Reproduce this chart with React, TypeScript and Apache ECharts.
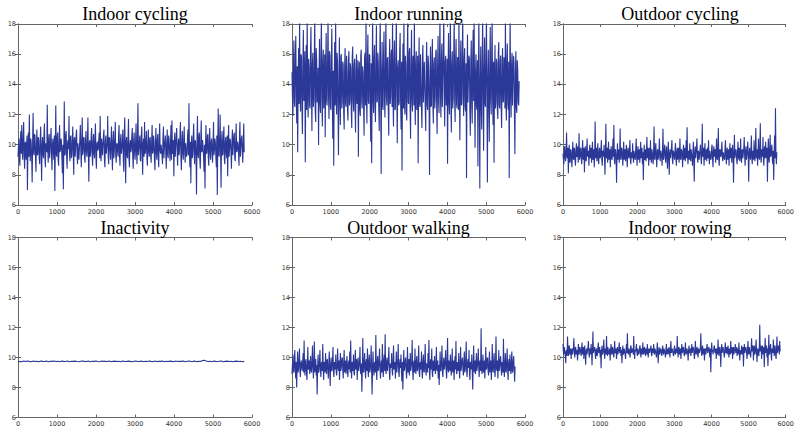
import React, { useEffect, useRef } from "react";
import * as echarts from "echarts";

const titles = [
  "Indoor cycling",
  "Indoor running",
  "Outdoor cycling",
  "Inactivity",
  "Outdoor walking",
  "Indoor rowing",
];

// x position (sample index) of the last point of each recording
const lastSample = [5800, 5850, 5760, 5800, 5745, 5850];

const xMin = 0;
const xMax = 6000;
const xStep = 1000;
const yMin = 6;
const yMax = 18;
const yStep = 2;

const indoorCycling = [
  9.2, 9.9, 10.4, 9.1, 8.6, 10.3, 10.9, 9.4, 11.3, 9.7, 9.0, 10.5, 11.5, 9.3, 8.4, 10.1, 10.2, 9.0, 9.5, 10.6, 7.0, 9.8, 10.8, 9.2, 12.0, 9.6, 8.9, 10.4, 10.1, 9.1, 7.5, 10.2, 12.1, 9.5, 9.3, 10.7, 10.6, 9.2, 8.2, 10.0,
  11.0, 9.3, 9.4, 10.5, 10.3, 9.0, 8.7, 10.2, 11.2, 9.6, 7.6, 9.9, 10.5, 9.4, 9.1, 10.6, 11.4, 9.2, 8.5, 10.1, 10.0, 9.5, 12.65, 9.7, 8.8, 10.3, 10.7, 9.1, 9.6, 10.4, 11.1, 9.3, 8.3, 10.0, 10.4, 9.5, 9.0, 10.6, 6.93, 9.8,
  12.6, 9.4, 9.2, 10.5, 10.8, 9.0, 8.6, 10.2, 11.3, 9.5, 9.7, 10.4, 10.2, 9.1, 8.1, 10.0, 7.04, 9.6, 12.86, 9.3, 9.4, 10.6, 10.9, 9.2, 8.4, 10.1, 10.3, 9.7, 11.9, 9.4, 8.9, 10.5, 10.6, 9.1, 9.3, 10.2, 11.2, 9.5, 8.0, 10.3,
  10.5, 9.2, 9.8, 10.6, 11.0, 9.4, 8.7, 10.1, 10.1, 9.0, 9.0, 10.4, 11.3, 9.6, 8.5, 10.2, 11.8, 9.3, 9.6, 10.5, 10.4, 9.1, 8.8, 10.3, 10.9, 9.5, 9.2, 10.0, 11.8, 9.4, 7.55, 10.1, 10.3, 9.2, 9.5, 10.6, 11.1, 9.3, 8.6, 10.2,
  10.7, 9.4, 9.1, 10.5, 11.4, 9.2, 8.4, 10.0, 10.2, 9.6, 9.7, 10.3, 10.8, 9.1, 11.9, 9.5, 8.9, 10.4, 10.0, 9.3, 9.3, 10.6, 11.0, 9.0, 8.5, 10.2, 10.6, 9.4, 9.8, 10.1, 11.9, 9.2, 8.7, 10.5, 10.4, 9.6, 9.0, 10.3, 11.2, 9.4,
  8.3, 10.2, 10.9, 9.1, 9.6, 10.4, 11.5, 9.3, 8.8, 10.0, 10.1, 9.5, 9.2, 10.6, 11.3, 9.2, 8.6, 10.3, 10.7, 9.4, 9.4, 10.1, 11.0, 9.0, 8.2, 10.5, 11.8, 9.6, 7.44, 10.2, 10.5, 9.3, 9.1, 10.4, 11.7, 9.1, 8.5, 10.0, 10.3, 9.5,
  9.7, 10.6, 11.1, 9.2, 8.4, 10.3, 10.8, 9.4, 9.0, 10.1, 11.4, 9.5, 8.7, 10.4, 12.75, 9.3, 9.3, 10.2, 10.6, 9.0, 8.9, 10.5, 11.2, 9.6, 8.0, 10.1, 10.4, 9.2, 11.5, 9.4, 9.5, 10.3, 10.9, 9.1, 8.6, 10.0, 11.0, 9.5, 9.2, 10.4,
  10.5, 9.3, 8.8, 10.2, 11.3, 9.4, 9.6, 10.6, 10.2, 9.0, 8.3, 10.1, 11.1, 9.5, 9.0, 10.3, 10.7, 9.2, 8.5, 10.4, 11.4, 9.6, 9.4, 10.0, 10.0, 9.3, 8.7, 10.5, 11.2, 9.1, 9.8, 10.2, 10.6, 9.4, 8.4, 10.1, 11.0, 9.3, 9.1, 10.6,
  10.3, 9.5, 8.9, 10.2, 11.3, 9.0, 11.6, 9.4, 9.5, 10.3, 7.9, 10.1, 10.8, 9.2, 9.2, 10.5, 11.1, 9.6, 8.6, 10.0, 10.4, 9.3, 9.7, 10.6, 11.5, 9.1, 8.3, 10.2, 10.9, 9.4, 9.0, 10.4, 11.2, 9.5, 8.8, 10.1, 10.1, 9.2, 9.4, 10.5,
  11.0, 9.3, 12.75, 9.6, 8.5, 10.2, 7.44, 10.0, 10.6, 9.1, 9.3, 10.4, 11.4, 9.5, 8.7, 10.3, 10.2, 9.2, 6.7, 10.1, 11.9, 9.4, 9.1, 10.6, 10.8, 9.0, 8.4, 10.2, 11.6, 9.5, 9.6, 10.3, 10.3, 9.2, 8.2, 10.0, 7.1, 9.7, 11.3, 9.4,
  9.5, 10.5, 10.7, 9.1, 8.6, 10.3, 11.1, 9.4, 9.0, 10.2, 10.4, 9.6, 8.8, 10.0, 11.5, 9.3, 9.7, 10.4, 10.1, 9.2, 8.5, 10.6, 6.67, 9.9, 12.4, 9.4, 9.2, 10.3, 12.0, 9.6, 7.15, 10.1, 10.9, 9.3, 9.4, 10.5, 11.2, 9.0, 8.7, 10.2,
  10.5, 9.4, 9.1, 10.6, 7.9, 10.0, 11.3, 9.2, 9.8, 10.4, 10.2, 9.5, 8.4, 10.1, 11.0, 9.3, 9.3, 10.6, 10.8, 9.1, 8.9, 10.3, 11.4, 9.5, 9.6, 10.2, 10.0, 9.4, 8.6, 10.5, 11.5, 9.2, 9.2, 10.4, 10.6, 9.6, 8.8, 10.1, 11.4, 9.5,
];

const indoorRunning = [
  14.8, 13.2, 11.9, 15.4, 16.9, 12.8, 12.5, 15.9, 17.2, 13.1, 11.4, 15.2, 9.5, 14.6, 16.4, 12.7, 18.5, 13.5, 12.2, 16.0, 15.8, 12.4, 10.7, 15.5, 17.6, 12.9, 13.0, 16.2, 8.83, 14.1, 16.6, 12.3, 18.5, 13.8, 11.8, 15.7, 15.2, 12.6, 12.4, 16.1,
  17.8, 13.4, 10.9, 15.3, 16.1, 12.5, 12.9, 15.8, 18.5, 12.2, 11.5, 16.4, 15.6, 12.8, 13.3, 15.1, 9.98, 14.4, 17.0, 12.7, 12.1, 15.9, 18.5, 13.0, 11.2, 15.6, 16.3, 12.4, 13.6, 16.0, 10.5, 14.8, 17.4, 12.9, 12.6, 15.4, 18.5, 13.3, 11.7, 16.2,
  15.9, 12.5, 12.3, 15.7, 17.7, 13.1, 10.4, 14.9, 8.6, 13.8, 16.8, 12.6, 18.5, 13.4, 12.0, 16.1, 15.4, 12.2, 9.3, 14.7, 17.1, 12.8, 11.3, 15.8, 16.0, 12.4, 12.8, 15.5, 15.3, 12.1, 11.0, 15.2, 16.4, 12.7, 12.5, 15.9, 14.9, 12.3, 11.6, 15.6,
  16.2, 12.6, 12.9, 15.4, 15.1, 12.2, 11.1, 15.8, 16.5, 12.9, 12.2, 15.3, 15.7, 12.4, 10.8, 15.0, 16.0, 12.7, 13.1, 15.6, 9.2, 14.5, 15.5, 12.3, 11.9, 15.9, 16.3, 12.8, 12.4, 15.2, 14.8, 12.5, 10.6, 15.7, 16.1, 12.6, 18.5, 13.2, 11.4, 15.5,
  17.3, 12.9, 12.7, 16.0, 15.9, 12.4, 10.2, 15.4, 8.77, 14.2, 18.5, 13.0, 12.1, 15.8, 16.6, 12.5, 11.5, 15.6, 17.9, 12.8, 12.9, 16.1, 15.4, 12.3, 10.9, 15.7, 18.5, 13.4, 8.06, 14.6, 16.8, 12.6, 12.3, 15.9, 17.5, 12.9, 11.8, 15.3, 18.5, 13.2,
  12.6, 15.7, 15.8, 12.4, 10.6, 15.2, 17.0, 12.7, 13.2, 16.0, 16.3, 12.5, 18.5, 13.1, 11.2, 15.6, 16.9, 12.3, 12.4, 15.8, 18.5, 13.3, 10.1, 15.1, 15.6, 12.6, 12.8, 16.2, 17.4, 12.9, 11.0, 15.5, 8.28, 14.3, 16.7, 12.4, 18.5, 13.0, 12.0, 15.9,
  15.3, 12.2, 11.6, 15.7, 18.5, 12.8, 12.7, 16.1, 16.4, 12.5, 10.4, 15.3, 17.6, 12.9, 12.2, 15.8, 15.9, 12.6, 18.5, 13.2, 11.3, 15.4, 16.2, 12.3, 12.9, 15.9, 8.77, 14.5, 17.1, 12.7, 12.5, 16.0, 16.0, 12.4, 11.1, 15.6, 16.6, 12.8, 12.8, 15.5,
  15.5, 12.3, 10.9, 15.2, 16.8, 12.6, 12.3, 15.9, 15.2, 12.9, 7.99, 14.2, 16.5, 12.5, 12.6, 15.7, 17.0, 12.8, 11.4, 15.4, 15.8, 12.4, 13.0, 16.1, 16.3, 12.7, 10.7, 15.3, 17.2, 12.9, 12.1, 15.8, 18.5, 13.3, 11.8, 15.6, 16.7, 12.5, 12.5, 16.0,
  18.5, 13.1, 11.2, 15.5, 15.9, 12.6, 12.9, 15.7, 8.73, 14.4, 17.4, 12.8, 12.0, 16.2, 18.5, 12.9, 10.8, 15.3, 16.2, 12.4, 13.1, 15.9, 18.5, 13.0, 11.5, 15.6, 17.0, 12.7, 12.4, 15.8, 15.6, 12.3, 18.5, 13.4, 10.3, 15.2, 16.9, 12.6, 12.7, 16.0,
  18.5, 13.2, 11.9, 15.7, 16.4, 12.5, 12.2, 15.4, 7.79, 14.3, 17.3, 12.8, 12.8, 15.9, 15.7, 12.4, 10.6, 15.5, 16.9, 12.7, 11.4, 15.8, 17.6, 12.9, 18.5, 13.3, 9.8, 14.8, 16.0, 12.6, 12.3, 15.6, 8.57, 14.2, 18.5, 13.0, 7.1, 14.1, 16.5, 12.5,
  11.0, 15.4, 18.5, 13.1, 9.6, 14.9, 17.1, 12.7, 12.5, 15.9, 18.5, 13.2, 7.5, 14.4, 16.3, 12.6, 10.2, 15.3, 17.8, 12.9, 12.0, 15.8, 18.5, 13.0, 11.3, 15.5, 8.8, 14.6, 16.6, 12.4, 12.8, 15.7, 15.4, 12.3, 11.7, 16.1, 16.8, 12.6, 12.4, 15.6,
  15.9, 12.5, 11.1, 15.4, 16.4, 12.8, 12.9, 15.8, 15.2, 12.4, 18.5, 13.1, 11.6, 15.6, 16.7, 12.7, 12.3, 15.5, 7.79, 14.5, 18.5, 13.2, 11.8, 15.3, 16.1, 12.6, 12.6, 15.9, 15.5, 12.2, 9.36, 14.7, 16.2, 12.5, 12.1, 15.6, 14.9, 12.8, 12.6, 14.2,
];

const outdoorCycling = [
  9.4, 9.0, 8.7, 9.7, 9.9, 9.1, 8.9, 9.6, 10.8, 9.2, 9.1, 9.8, 8.1, 9.4, 10.0, 8.9, 8.8, 9.7, 9.6, 9.0, 8.5, 9.5, 10.2, 9.1, 9.0, 9.8, 9.7, 8.9, 8.6, 9.6, 10.1, 9.2, 9.3, 9.9, 8.8, 9.5, 10.76, 9.0, 9.2, 9.7,
  9.8, 9.0, 8.7, 9.6, 10.3, 9.1, 9.0, 9.8, 8.17, 9.4, 9.9, 9.0, 8.9, 9.7, 10.4, 9.2, 9.2, 9.6, 8.6, 9.5, 10.0, 9.1, 9.4, 9.8, 8.8, 9.5, 10.2, 9.0, 9.1, 9.7, 8.5, 9.4, 11.53, 9.1, 9.3, 9.8, 8.9, 9.6, 10.1, 9.0,
  8.7, 9.5, 9.8, 9.1, 9.2, 9.7, 10.3, 9.0, 8.6, 9.6, 9.5, 9.2, 10.0, 9.1, 8.0, 9.4, 11.38, 9.2, 9.1, 9.8, 8.8, 9.5, 10.2, 9.0, 9.3, 9.7, 8.5, 9.4, 9.9, 9.1, 9.0, 9.6, 10.4, 9.2, 11.3, 9.0, 8.7, 9.7, 9.6, 9.1,
  7.48, 9.3, 10.1, 9.0, 9.2, 9.7, 8.8, 9.5, 11.07, 9.1, 9.0, 9.8, 9.7, 9.2, 8.6, 9.6, 10.2, 9.0, 9.3, 9.7, 8.9, 9.4, 10.0, 9.1, 8.5, 9.6, 9.8, 9.2, 9.1, 9.7, 10.3, 9.0, 8.7, 9.5, 9.5, 9.1, 10.1, 9.3, 8.8, 9.6,
  9.6, 9.1, 9.0, 9.8, 10.4, 9.2, 8.6, 9.5, 9.9, 9.0, 9.2, 9.7, 8.8, 9.4, 10.2, 9.1, 9.4, 9.8, 8.7, 9.5, 7.66, 9.3, 10.0, 9.0, 9.1, 9.7, 8.9, 9.6, 10.5, 9.1, 9.3, 9.8, 8.6, 9.4, 9.8, 9.0, 10.3, 9.2, 8.8, 9.7,
  9.5, 9.0, 8.7, 9.6, 11.2, 9.1, 9.0, 9.8, 10.1, 9.2, 8.5, 9.5, 9.7, 9.0, 9.2, 9.7, 10.4, 9.1, 8.9, 9.6, 9.6, 9.2, 8.6, 9.8, 11.05, 9.0, 9.1, 9.7, 10.0, 9.3, 8.8, 9.5, 9.9, 9.1, 8.4, 9.6, 10.2, 9.0, 8.0, 9.4,
  9.7, 9.1, 9.1, 9.8, 10.3, 9.0, 8.7, 9.6, 9.5, 9.2, 9.0, 9.7, 10.1, 9.1, 8.6, 9.5, 9.8, 9.0, 9.3, 9.8, 8.8, 9.4, 10.4, 9.1, 9.0, 9.7, 9.6, 9.2, 8.5, 9.6, 10.0, 9.0, 9.2, 9.8, 8.9, 9.5, 10.3, 9.1, 11.16, 9.3,
  8.7, 9.6, 9.4, 9.0, 10.1, 9.2, 8.9, 9.7, 9.7, 9.1, 8.6, 9.5, 10.2, 9.0, 7.55, 9.4, 9.9, 9.1, 9.1, 9.8, 10.4, 9.2, 8.8, 9.6, 9.5, 9.0, 9.0, 9.7, 10.0, 9.1, 8.7, 9.5, 11.38, 9.2, 9.2, 9.8, 8.6, 9.4, 10.1, 9.0,
  9.3, 9.7, 8.9, 9.5, 9.8, 9.1, 10.3, 9.2, 8.7, 9.6, 9.6, 9.0, 9.1, 9.8, 10.0, 9.1, 8.5, 9.5, 9.9, 9.2, 9.2, 9.7, 8.8, 9.4, 10.4, 9.1, 9.0, 9.8, 11.1, 9.0, 8.6, 9.6, 9.7, 9.2, 9.3, 9.7, 10.2, 9.1, 8.9, 9.5,
  9.5, 9.1, 9.0, 9.8, 10.3, 9.2, 8.7, 9.6, 9.8, 9.0, 9.2, 9.7, 8.6, 9.5, 10.1, 9.1, 9.4, 9.8, 8.8, 9.4, 10.0, 9.2, 7.48, 9.3, 10.65, 9.1, 9.1, 9.7, 9.6, 9.0, 8.7, 9.5, 10.2, 9.2, 9.0, 9.8, 8.9, 9.4, 10.4, 9.1,
  8.8, 9.6, 9.7, 9.1, 9.1, 9.8, 10.5, 9.2, 8.6, 9.5, 9.9, 9.0, 9.3, 9.7, 10.2, 9.1, 7.55, 9.4, 9.8, 9.2, 9.0, 9.7, 10.6, 9.1, 8.7, 9.6, 9.5, 9.0, 10.3, 9.2, 8.9, 9.8, 11.1, 9.1, 9.2, 9.7, 8.6, 9.5, 10.4, 9.2,
  9.0, 9.8, 11.42, 9.1, 8.8, 9.6, 9.7, 9.2, 10.5, 9.0, 8.6, 9.7, 9.9, 9.1, 10.2, 9.3, 9.1, 9.8, 7.55, 9.4, 10.4, 9.1, 8.8, 9.7, 10.65, 9.2, 9.3, 9.8, 10.0, 9.0, 8.7, 9.6, 7.66, 9.3, 10.6, 9.1, 12.42, 9.4, 8.7, 9.5,
];

const inactivity = [
  9.70, 9.74, 9.72, 9.76, 9.73, 9.77, 9.74, 9.72, 9.76, 9.73, 9.75, 9.72, 9.77, 9.74, 9.73, 9.76, 9.72, 9.75, 9.74, 9.77,
  9.73, 9.75, 9.72, 9.76, 9.74, 9.73, 9.77, 9.72, 9.75, 9.74, 9.76, 9.73, 9.72, 9.75, 9.77, 9.74, 9.73, 9.76, 9.72, 9.75,
  9.74, 9.77, 9.73, 9.72, 9.76, 9.74, 9.75, 9.73, 9.77, 9.72, 9.74, 9.76, 9.73, 9.75, 9.72, 9.77, 9.74, 9.73, 9.76, 9.74,
  9.72, 9.75, 9.77, 9.73, 9.74, 9.76, 9.72, 9.75, 9.73, 9.77, 9.74, 9.72, 9.76, 9.73, 9.75, 9.74, 9.77, 9.72, 9.75, 9.73,
  9.76, 9.74, 9.72, 9.77, 9.73, 9.75, 9.74, 9.76, 9.72, 9.75, 9.77, 9.73, 9.74, 9.76, 9.72, 9.75, 9.73, 9.80, 9.82, 9.77,
  9.73, 9.75, 9.72, 9.76, 9.74, 9.73, 9.75, 9.77, 9.72, 9.74, 9.76, 9.73, 9.75, 9.72, 9.74, 9.76, 9.73, 9.75, 9.72, 9.74,
];

const outdoorWalking = [
  8.9, 9.6, 10.2, 9.1, 9.0, 9.8, 10.5, 9.2, 8.6, 9.7, 8.0, 9.4, 10.4, 9.0, 9.2, 9.9, 10.6, 9.1, 8.7, 9.6, 9.8, 9.3, 9.1, 9.8, 10.3, 9.0, 11.13, 9.2, 8.8, 9.7, 9.9, 9.1, 8.5, 9.5, 10.7, 9.2, 9.3, 9.8, 8.9, 9.6,
  10.1, 9.1, 9.0, 9.8, 10.8, 9.3, 8.6, 9.7, 11.06, 9.0, 9.4, 9.9, 8.8, 9.5, 7.54, 9.3, 10.2, 9.0, 9.1, 9.8, 10.5, 9.2, 8.7, 9.6, 9.7, 9.1, 10.9, 9.3, 8.5, 9.7, 9.6, 9.0, 10.3, 9.4, 8.9, 9.8, 9.9, 9.1, 8.6, 9.6,
  10.4, 9.2, 8.1, 9.5, 10.0, 9.1, 9.2, 9.8, 10.7, 9.0, 8.7, 9.7, 9.5, 9.2, 10.2, 9.0, 8.8, 9.6, 10.6, 9.3, 9.1, 9.8, 8.5, 9.4, 10.3, 9.1, 9.4, 9.9, 10.0, 9.2, 8.6, 9.7, 10.5, 9.0, 9.2, 9.8, 8.9, 9.5, 10.1, 9.1,
  8.7, 9.6, 9.8, 9.2, 10.4, 9.0, 11.13, 9.3, 8.6, 9.7, 9.6, 9.1, 10.2, 9.0, 8.8, 9.8, 10.5, 9.2, 9.3, 9.9, 8.5, 9.4, 10.0, 9.1, 9.1, 9.7, 10.7, 9.0, 8.9, 9.6, 7.72, 9.3, 11.3, 9.1, 9.0, 9.8, 10.3, 9.2, 8.6, 9.7,
  9.9, 9.1, 10.6, 9.3, 8.7, 9.8, 10.2, 9.0, 9.2, 9.7, 10.8, 9.1, 7.54, 9.4, 10.4, 9.2, 8.8, 9.6, 9.7, 9.0, 11.5, 9.3, 8.5, 9.7, 10.1, 9.1, 9.3, 9.9, 10.6, 9.2, 8.6, 9.5, 9.8, 9.0, 10.9, 9.3, 8.7, 9.8, 10.2, 9.1,
  11.55, 9.2, 8.9, 9.7, 10.0, 9.1, 9.1, 9.9, 10.7, 9.0, 8.5, 9.6, 9.6, 9.3, 10.3, 9.1, 8.8, 9.8, 10.8, 9.2, 9.2, 9.7, 8.6, 9.5, 10.4, 9.0, 9.0, 9.8, 10.9, 9.1, 8.7, 9.6, 9.9, 9.3, 10.2, 9.0, 8.4, 9.7, 7.87, 9.4,
  10.5, 9.1, 9.3, 9.8, 10.0, 9.2, 8.6, 9.6, 10.7, 9.0, 9.1, 9.9, 8.8, 9.5, 10.3, 9.1, 9.4, 9.7, 11.17, 9.2, 8.5, 9.6, 9.8, 9.0, 10.6, 9.3, 8.9, 9.8, 10.1, 9.1, 9.2, 9.7, 10.8, 9.0, 8.7, 9.6, 9.7, 9.2, 10.4, 9.1,
  8.6, 9.7, 10.2, 9.1, 9.0, 9.8, 10.9, 9.2, 8.8, 9.6, 9.5, 9.0, 10.3, 9.3, 11.17, 9.1, 8.5, 9.7, 9.9, 9.2, 10.6, 9.0, 8.7, 9.8, 9.3, 9.1, 10.1, 9.4, 8.9, 9.6, 10.7, 9.2, 9.1, 9.8, 8.6, 9.5, 8.16, 9.3, 10.4, 9.1,
  9.2, 9.8, 10.8, 9.0, 8.7, 9.6, 10.0, 9.2, 9.4, 9.9, 10.5, 9.1, 8.6, 9.7, 11.3, 9.2, 9.0, 9.8, 9.8, 9.1, 10.2, 9.3, 8.8, 9.6, 10.6, 9.0, 9.3, 9.8, 8.5, 9.5, 10.1, 9.2, 11.1, 9.0, 8.9, 9.7, 9.7, 9.1, 10.3, 9.3,
  8.6, 9.6, 10.7, 9.1, 9.1, 9.8, 10.0, 9.2, 8.8, 9.7, 10.4, 9.0, 9.2, 9.9, 11.06, 9.1, 8.7, 9.6, 9.9, 9.3, 10.5, 9.0, 8.5, 9.7, 9.6, 9.2, 10.2, 9.1, 7.87, 9.4, 10.8, 9.2, 9.0, 9.8, 8.9, 9.5, 10.3, 9.1, 9.4, 9.8,
  10.6, 9.2, 8.7, 9.7, 9.8, 9.1, 11.95, 9.3, 8.9, 9.6, 10.2, 9.0, 9.1, 9.8, 8.6, 9.5, 10.7, 9.2, 9.3, 9.9, 10.0, 9.1, 8.8, 9.7, 10.4, 9.0, 9.2, 9.8, 8.5, 9.4, 10.9, 9.2, 9.0, 9.7, 10.3, 9.1, 8.7, 9.6, 11.4, 9.3,
  9.1, 9.8, 8.6, 9.5, 10.5, 9.1, 9.4, 9.9, 10.1, 9.2, 8.8, 9.7, 9.7, 9.0, 11.25, 9.3, 8.7, 9.6, 10.3, 9.1, 9.0, 9.8, 10.6, 9.2, 8.5, 9.6, 9.9, 9.1, 10.2, 9.3, 8.9, 9.7, 10.4, 9.0, 9.1, 9.8, 10.1, 9.2, 8.38, 9.4,
];

const indoorRowing = [
  10.9, 10.3, 10.2, 10.7, 10.7, 10.2, 9.62, 10.4, 10.5, 10.1, 11.4, 10.5, 10.1, 10.7, 10.8, 10.2, 10.3, 10.6, 9.9, 10.4, 10.6, 10.2, 10.2, 10.7, 11.29, 10.3, 10.0, 10.6, 10.7, 10.2, 10.4, 10.5, 9.8, 10.4, 10.9, 10.2, 10.3, 10.7, 10.6, 10.3,
  10.1, 10.6, 11.0, 10.2, 10.4, 10.7, 9.9, 10.5, 10.8, 10.2, 9.51, 10.4, 10.6, 10.2, 10.2, 10.7, 11.1, 10.3, 10.0, 10.6, 10.5, 10.2, 10.9, 10.4, 9.49, 10.5, 11.73, 10.3, 10.3, 10.6, 10.7, 10.2, 9.9, 10.5, 10.6, 10.1, 10.2, 10.7, 11.0, 10.3,
  10.4, 10.7, 10.0, 10.5, 9.29, 10.4, 10.8, 10.2, 10.3, 10.6, 11.2, 10.3, 9.9, 10.6, 10.5, 10.2, 11.44, 10.4, 10.1, 10.7, 10.7, 10.2, 10.3, 10.6, 9.8, 10.5, 10.9, 10.3, 10.2, 10.7, 10.6, 10.2, 10.0, 10.5, 11.1, 10.3, 10.4, 10.6, 9.9, 10.4,
  10.7, 10.2, 10.2, 10.6, 11.0, 10.3, 10.4, 10.7, 10.1, 10.5, 9.62, 10.4, 10.8, 10.2, 10.3, 10.6, 10.6, 10.2, 9.9, 10.5, 10.9, 10.3, 11.62, 10.4, 10.2, 10.6, 10.5, 10.2, 10.0, 10.7, 10.8, 10.3, 10.3, 10.6, 10.6, 10.2, 11.44, 10.4, 9.9, 10.5,
  10.4, 10.6, 10.9, 10.3, 10.1, 10.6, 10.6, 10.2, 10.3, 10.7, 10.8, 10.3, 10.0, 10.6, 10.5, 10.2, 11.0, 10.4, 10.2, 10.6, 10.7, 10.3, 10.1, 10.6, 10.4, 10.2, 10.9, 10.4, 10.0, 10.5, 10.6, 10.3, 10.3, 10.6, 10.8, 10.2, 10.1, 10.6, 10.5, 10.3,
  10.9, 10.3, 10.2, 10.6, 10.6, 10.3, 10.0, 10.5, 11.0, 10.3, 9.62, 10.4, 10.7, 10.2, 10.3, 10.6, 10.5, 10.3, 10.1, 10.6, 10.8, 10.3, 10.2, 10.6, 10.6, 10.3, 10.0, 10.5, 10.9, 10.2, 10.4, 10.6, 10.2, 10.5, 10.7, 10.3, 10.0, 10.6, 11.1, 10.3,
  10.3, 10.6, 10.6, 10.2, 10.1, 10.6, 10.8, 10.3, 10.2, 10.6, 10.5, 10.3, 11.44, 10.4, 10.0, 10.6, 10.7, 10.2, 10.3, 10.6, 9.9, 10.4, 10.9, 10.3, 10.4, 10.7, 10.6, 10.2, 10.1, 10.5, 11.0, 10.3, 10.2, 10.6, 10.5, 10.3, 9.8, 10.5, 10.8, 10.3,
  10.4, 10.6, 10.1, 10.5, 10.9, 10.3, 10.3, 10.7, 10.6, 10.2, 9.9, 10.5, 11.1, 10.3, 10.2, 10.6, 10.7, 10.2, 10.0, 10.6, 10.5, 10.3, 10.3, 10.7, 11.62, 10.4, 10.1, 10.6, 10.8, 10.2, 10.4, 10.6, 9.8, 10.5, 10.6, 10.2, 10.2, 10.7, 10.9, 10.3,
  10.3, 10.6, 10.7, 10.2, 10.0, 10.6, 9.02, 10.3, 11.0, 10.4, 10.5, 10.2, 10.2, 10.7, 10.8, 10.3, 10.4, 10.6, 9.9, 10.5, 10.6, 10.2, 11.2, 10.4, 10.1, 10.6, 10.7, 10.3, 9.36, 10.4, 10.9, 10.3, 10.3, 10.7, 10.5, 10.2, 10.0, 10.6, 11.0, 10.3,
  10.4, 10.7, 10.2, 10.5, 10.8, 10.3, 10.0, 10.6, 10.6, 10.2, 11.1, 10.4, 10.3, 10.7, 9.9, 10.5, 10.7, 10.2, 10.2, 10.6, 10.9, 10.3, 10.4, 10.7, 10.1, 10.5, 10.6, 10.2, 11.0, 10.4, 9.8, 10.5, 10.5, 10.2, 10.8, 10.4, 10.2, 10.7, 9.4, 10.4,
  10.9, 10.3, 10.3, 10.7, 10.6, 10.2, 9.9, 10.5, 11.1, 10.3, 10.2, 10.7, 10.7, 10.2, 10.0, 10.6, 11.29, 10.4, 10.4, 10.8, 9.8, 10.5, 10.8, 10.2, 10.3, 10.7, 11.2, 10.3, 9.7, 10.5, 10.6, 10.2, 10.1, 10.7, 12.18, 10.4, 10.4, 10.8, 9.9, 10.5,
  10.8, 10.3, 10.2, 10.7, 9.36, 10.5, 11.3, 10.3, 10.5, 10.8, 10.0, 10.6, 9.44, 10.4, 11.51, 10.2, 10.3, 10.7, 10.9, 10.2, 9.8, 10.6, 10.6, 10.3, 11.2, 10.4, 10.1, 10.8, 10.7, 10.2, 9.9, 10.6, 11.4, 10.3, 10.3, 10.7, 10.8, 10.2, 11.1, 10.4,
];

const seriesValues = [indoorCycling, indoorRunning, outdoorCycling, inactivity, outdoorWalking, indoorRowing];

const grids = [
  { left: 18, top: 24, width: 234, height: 181 },
  { left: 292, top: 24, width: 233, height: 181 },
  { left: 563, top: 24, width: 234, height: 181 },
  { left: 18, top: 237.5, width: 234, height: 180 },
  { left: 292, top: 237.5, width: 233, height: 180 },
  { left: 563, top: 237.5, width: 234, height: 180 },
];

const titleTops = [5, 5, 5, 219, 219, 219];

const AXIS_COLOR = "#666";
const LINE_COLOR = "#2b3897";

export default function App() {
  const ref = useRef<HTMLDivElement>(null);

  useEffect(() => {
    if (!ref.current) return;
    const chart = echarts.init(ref.current, undefined, { renderer: "svg" });

    const xAxis: any[] = [];
    const yAxis: any[] = [];
    const series: any[] = [];
    const title: any[] = [];

    grids.forEach((g, i) => {
      const common = {
        gridIndex: i,
        type: "value",
        axisLine: { show: true, lineStyle: { color: AXIS_COLOR, width: 1 } },
        axisTick: { show: true, inside: true, length: 3, lineStyle: { color: AXIS_COLOR } },
        splitLine: { show: false },
      };
      const labelStyle = {
        fontFamily: "DejaVu Sans",
        fontSize: 6.5,
        color: "#333",
        formatter: (v: number) => String(v),
      };
      xAxis.push({
        ...common,
        position: "bottom",
        min: xMin,
        max: xMax,
        interval: xStep,
        axisLabel: { ...labelStyle, margin: 3, showMinLabel: true, showMaxLabel: true },
      });
      xAxis.push({
        ...common,
        position: "top",
        min: xMin,
        max: xMax,
        interval: xStep,
        axisLabel: { show: false },
      });
      yAxis.push({
        ...common,
        position: "left",
        min: yMin,
        max: yMax,
        interval: yStep,
        axisLabel: { ...labelStyle, margin: 2, showMinLabel: true, showMaxLabel: true },
      });
      yAxis.push({
        ...common,
        position: "right",
        min: yMin,
        max: yMax,
        interval: yStep,
        axisLabel: { show: false },
      });

      const vals = seriesValues[i];
      const n = vals.length;
      const end = lastSample[i];
      series.push({
        type: "line",
        xAxisIndex: 2 * i,
        yAxisIndex: 2 * i,
        data: vals.map((v, k) => [(k * end) / (n - 1), v]),
        showSymbol: false,
        symbol: "none",
        clip: true,
        silent: true,
        lineStyle: { color: LINE_COLOR, width: 1.1, opacity: 1 },
      });

      title.push({
        text: titles[i],
        left: g.left + g.width / 2,
        top: titleTops[i],
        textAlign: "center",
        padding: 0,
        textStyle: {
          fontFamily: "Liberation Serif",
          fontSize: 18,
          fontWeight: "normal",
          color: "#000",
        },
      });
    });

    chart.setOption({
      animation: false,
      backgroundColor: "#fff",
      title,
      grid: grids.map((g) => ({ ...g, containLabel: false })),
      xAxis,
      yAxis,
      series,
    });

    return () => chart.dispose();
  }, []);

  return (
    <div
      ref={ref}
      style={{ position: "fixed", left: 0, top: 0, width: 797, height: 429 }}
    />
  );
}
